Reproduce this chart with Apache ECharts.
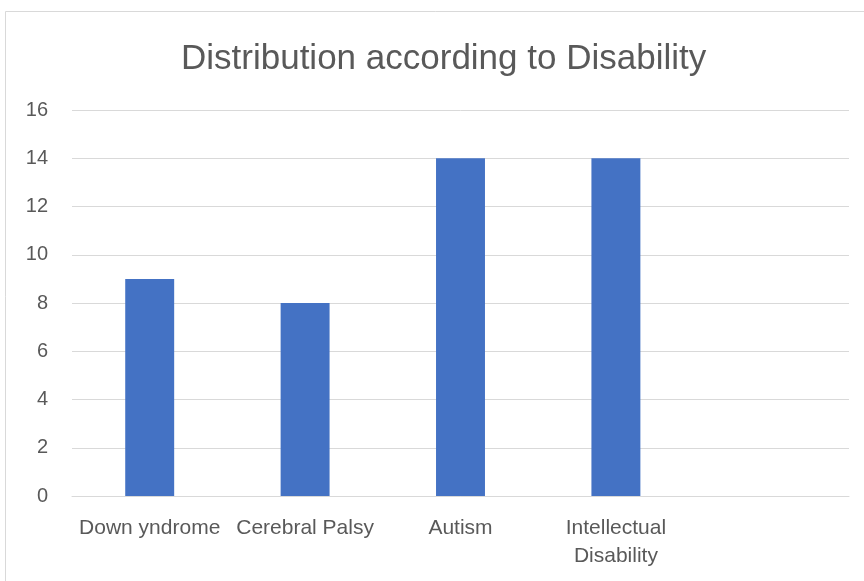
<!DOCTYPE html>
<html><head><meta charset="utf-8">
<script src="https://cdn.jsdelivr.net/npm/echarts@6/dist/echarts.min.js"></script>
<style>html,body{margin:0;padding:0;background:#fff}#c{width:864px;height:581px}</style>
</head><body><div id="c"></div>
<script>
var categories = ['Down yndrome', 'Cerebral Palsy', 'Autism', 'Intellectual\nDisability', ''];
var values = [9, 8, 14, 14, null];
var yTicks = {min: 0, max: 16, interval: 2};
var titleText = 'Distribution according to Disability';

var FONT = '"Liberation Sans", sans-serif';
var chart = echarts.init(document.getElementById('c'), null, {renderer: 'canvas'});
chart.setOption({
  animation: false,
  backgroundColor: '#fff',
  graphic: [{
    type: 'rect', shape: {x: 5.5, y: 11.5, width: 900, height: 700},
    style: {fill: 'none', stroke: '#d9d9d9', lineWidth: 1}, silent: true
  }],
  title: {
    text: titleText, left: 176, top: 37,
    textStyle: {fontFamily: FONT, fontSize: 35, fontWeight: 'normal', color: '#595959'}
  },
  grid: {left: 72, right: 15, top: 110, bottom: 85, containLabel: false},
  xAxis: {
    type: 'category', data: categories,
    axisLine: {show: true, lineStyle: {color: '#d9d9d9', width: 1}},
    axisTick: {show: false},
    axisLabel: {interval: 0, fontFamily: FONT, fontSize: 21, color: '#595959', margin: 18, lineHeight: 28}
  },
  yAxis: {
    type: 'value', min: yTicks.min, max: yTicks.max, interval: yTicks.interval,
    axisLine: {show: false}, axisTick: {show: false},
    splitLine: {lineStyle: {color: '#d9d9d9', width: 1}},
    axisLabel: {fontFamily: FONT, fontSize: 20, color: '#595959', margin: 24}
  },
  series: [{
    type: 'bar', data: values, barWidth: '31.5%',
    itemStyle: {color: '#4472c4'}
  }]
});
</script></body></html>
